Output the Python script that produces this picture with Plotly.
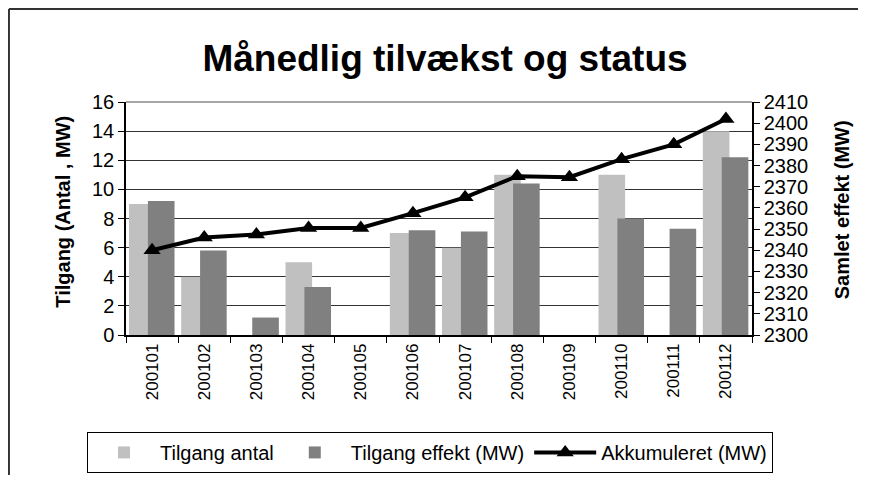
import plotly.graph_objects as go

maaneder = ["200101", "200102", "200103", "200104", "200105", "200106",
            "200107", "200108", "200109", "200110", "200111", "200112"]
tilgang_antal = [9, 4, 0, 5, 0, 7, 6, 11, 0, 11, 0, 14]
tilgang_effekt = [9.2, 5.8, 1.2, 3.3, 0, 7.2, 7.1, 10.4, 0, 8.0, 7.3, 12.2]
akkumuleret = [2340, 2346, 2347.5, 2350.5, 2350.5, 2357.5, 2365, 2375, 2374.5, 2383, 2390, 2402]

font = "Liberation Sans, Arial, sans-serif"

fig = go.Figure()
fig.add_trace(go.Bar(x=maaneder, y=tilgang_antal, name="Tilgang antal",
                     marker=dict(color="#C0C0C0", line_width=0),
                     width=0.51, offset=-0.4425))
fig.add_trace(go.Bar(x=maaneder, y=tilgang_effekt, name="Tilgang effekt (MW)",
                     marker=dict(color="#808080", line_width=0),
                     width=0.51, offset=-0.08))
fig.add_trace(go.Scatter(x=maaneder, y=akkumuleret, name="Akkumuleret (MW)",
                         yaxis="y2", mode="lines+markers",
                         line=dict(color="black", width=4),
                         marker=dict(symbol="triangle-up", size=15, color="black")))

# page body has an 8px margin; keep the figure inside the window (no scrollbars)
W, H = 850, 467
fig.update_layout(
    width=W, height=H,
    margin=dict(l=118, r=W - 118 - 626, t=94, b=H - 94 - 233, autoexpand=False),
    paper_bgcolor="white", plot_bgcolor="white",
    barmode="overlay",
    font=dict(family=font, color="black", size=20),
    title=dict(text="<b>Månedlig tilvækst og status</b>", x=437 / W, xanchor="center",
               y=1 - 50 / H, yanchor="middle",
               font=dict(size=37, family=font, color="black")),
    xaxis=dict(type="category", range=[-0.5, 11.5], tickangle=-90,
               ticks="outside", ticklen=6, tickson="boundaries", tickcolor="black",
               showline=True, linecolor="black", linewidth=1.5,
               showgrid=False, tickfont=dict(size=17)),
    yaxis=dict(range=[0, 16], dtick=2, ticks="outside", ticklen=6, tickcolor="black",
               showline=True, linecolor="black", linewidth=1.5,
               showgrid=True, gridcolor="#333333", gridwidth=1,
               tickfont=dict(size=20), zeroline=False),
    yaxis2=dict(range=[2300, 2410], dtick=10, overlaying="y", side="right",
                ticks="outside", ticklen=6, tickcolor="black",
                showline=True, linecolor="black", linewidth=1.5,
                showgrid=False, tickfont=dict(size=20), zeroline=False),
    showlegend=True,
    # left-anchored just left of the plot so the legend may be wider than the plot
    legend=dict(orientation="h", x=-0.0623, xanchor="left", y=-0.416, yanchor="top",
                bordercolor="black", borderwidth=1, bgcolor="white",
                font=dict(size=20), traceorder="normal", itemwidth=62),
    annotations=[
        dict(text="<b>Tilgang (Antal , MW)</b>", xref="paper", yref="paper",
             x=-0.102, y=0.53, textangle=-90, showarrow=False,
             xanchor="center", yanchor="middle", font=dict(size=20)),
        dict(text="<b>Samlet effekt (MW)</b>", xref="paper", yref="paper",
             x=1.144, y=0.536, textangle=-90, showarrow=False,
             xanchor="center", yanchor="middle", font=dict(size=20)),
    ],
    shapes=[
        dict(type="line", xref="paper", yref="paper", x0=-0.187, x1=1.2, y0=1.399, y1=1.399,
             line=dict(color="#333333", width=2)),
        dict(type="line", xref="paper", yref="paper", x0=-0.187, x1=-0.187, y0=-0.7, y1=1.399,
             line=dict(color="#333333", width=2)),
        dict(type="line", xref="paper", yref="paper", x0=0, x1=1, y0=1, y1=1,
             line=dict(color="#888888", width=1.5)),
    ],
)

fig.write_html("out.html")
